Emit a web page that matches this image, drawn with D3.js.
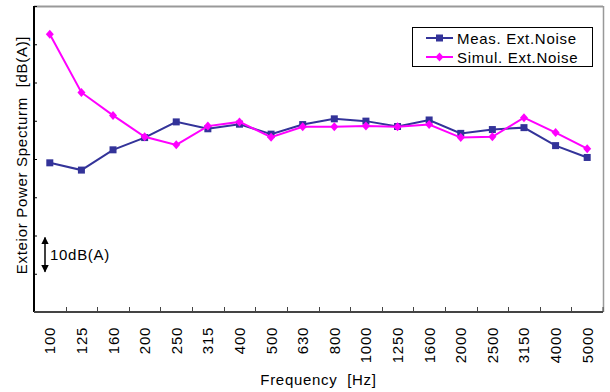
<!DOCTYPE html>
<html><head><meta charset="utf-8">
<script src="https://cdn.jsdelivr.net/npm/d3@7"></script>
<style>body{margin:0;background:#fff}svg{display:block;font-family:"Liberation Sans",Arial,sans-serif}svg text{letter-spacing:0.7px}</style>
</head><body><svg id="c" width="610" height="392"></svg>
<script>
const categories = ["100","125","160","200","250","315","400","500","630","800","1000","1250","1600","2000","2500","3150","4000","5000"];
const measValues = [39.0,37.1,42.4,45.6,49.7,47.9,49.1,46.5,49.0,50.5,49.9,48.5,50.2,46.7,47.7,48.2,43.5,40.4];
const simulValues = [72.6,57.4,51.4,45.8,43.7,48.6,49.7,45.7,48.4,48.4,48.6,48.4,49.0,45.6,45.8,50.8,46.9,42.7];
const yTicks = [0,10,20,30,40,50,60,70,80];
const seriesNames = ["Meas. Ext.Noise","Simul. Ext.Noise"];

const svg = d3.select("#c");
const L=34,R=603,T=6,B=312;
const x = d3.scaleBand().domain(categories).range([L,R]);
const y = d3.scaleLinear().domain([0,80]).range([B,T]);

// frame
svg.append("line").attr("x1",L).attr("x2",R).attr("y1",T+0.5).attr("y2",T+0.5).attr("stroke","#999").attr("stroke-width",2);
svg.append("line").attr("x1",R+0.5).attr("x2",R+0.5).attr("y1",T).attr("y2",B).attr("stroke","#999").attr("stroke-width",1.5);

// y axis
const yAx = svg.append("g").attr("transform",`translate(${L},0)`)
  .call(d3.axisRight(y).tickValues(yTicks).tickSize(3).tickFormat(""));
yAx.select(".domain").attr("stroke","#000").attr("stroke-width",2).attr("d",`M0,${T}V${B}`);
yAx.selectAll(".tick line").attr("stroke","#000");

// x axis (ticks at band boundaries, inside)
const xAx = svg.append("g").attr("transform",`translate(0,${B})`)
  .call(d3.axisTop(x).tickSize(0).tickFormat(""));
xAx.select(".domain").attr("stroke","#444").attr("stroke-width",2).attr("d",`M${L},0H${R}`);
categories.forEach((c,i)=>{ if(i>0){ const xx=Math.round(x(c))+0.5;
  svg.append("line").attr("x1",xx).attr("x2",xx).attr("y1",B-5).attr("y2",B).attr("stroke","#444"); }});
svg.append("line").attr("x1",R).attr("x2",R).attr("y1",B-5).attr("y2",B).attr("stroke","#444");

// x labels
svg.append("g").selectAll("text").data(categories).join("text")
  .attr("transform",d=>`translate(${x(d)+x.bandwidth()/2+5.5},327) rotate(-90)`)
  .attr("text-anchor","end").attr("font-size",15).attr("fill","#000").text(d=>d);

// titles
svg.append("text").attr("x",(L+R)/2).attr("y",385).attr("text-anchor","middle").attr("font-size",15).attr("xml:space","preserve").text("Frequency  [Hz]");
svg.append("text").attr("transform",`translate(27,155) rotate(-90)`).attr("text-anchor","middle").attr("font-size",15).attr("xml:space","preserve").text("Exteior Power Specturm  [dB(A)]");

// 10 dB arrow
const ax=45;
svg.append("defs").append("marker").attr("id","ah").attr("viewBox","0 0 10 10").attr("refX",9).attr("refY",5)
 .attr("markerWidth",5).attr("markerHeight",5).attr("orient","auto-start-reverse")
 .append("path").attr("d","M0,0L10,5L0,10z").attr("fill","#000");
svg.append("line").attr("x1",ax).attr("x2",ax).attr("y1",y(20)+2).attr("y2",y(10)-2).attr("stroke","#000").attr("stroke-width",1.5)
 .attr("marker-start","url(#ah)").attr("marker-end","url(#ah)");
svg.append("text").attr("x",50).attr("y",(y(20)+y(10))/2+5).attr("font-size",15).text("10dB(A)");

// series
const series=[{name:seriesNames[0],vals:measValues,color:"#333399",shape:"sq"},
              {name:seriesNames[1],vals:simulValues,color:"#FF00FF",shape:"dm"}];
const cx = d=>x(d)+x.bandwidth()/2;
const line = d3.line().x((v,i)=>cx(categories[i])).y(v=>y(v));
series.forEach(s=>{
  svg.append("path").datum(s.vals).attr("d",line).attr("fill","none").attr("stroke",s.color).attr("stroke-width",2);
  const g=svg.append("g");
  s.vals.forEach((v,i)=>{
    if(s.shape==="sq") g.append("rect").attr("x",cx(categories[i])-3.5).attr("y",y(v)-3.5).attr("width",7).attr("height",7).attr("fill",s.color);
    else g.append("path").attr("transform",`translate(${cx(categories[i])},${y(v)})`).attr("d","M0,-4.5L4,0L0,4.5L-4,0Z").attr("fill",s.color);
  });
});

// legend
const lg=svg.append("g");
lg.append("rect").attr("x",412.5).attr("y",27.5).attr("width",180).attr("height",39).attr("fill","#fff").attr("stroke","#000");
series.forEach((s,i)=>{
  const yy=38+i*19;
  lg.append("line").attr("x1",426).attr("x2",453).attr("y1",yy).attr("y2",yy).attr("stroke",s.color).attr("stroke-width",2);
  if(s.shape==="sq") lg.append("rect").attr("x",436).attr("y",yy-3.5).attr("width",7).attr("height",7).attr("fill",s.color);
  else lg.append("path").attr("transform",`translate(439.5,${yy})`).attr("d","M0,-4.5L4,0L0,4.5L-4,0Z").attr("fill",s.color);
  lg.append("text").attr("x",457).attr("y",yy+5.5).attr("font-size",15).text(s.name);
});
</script></body></html>
